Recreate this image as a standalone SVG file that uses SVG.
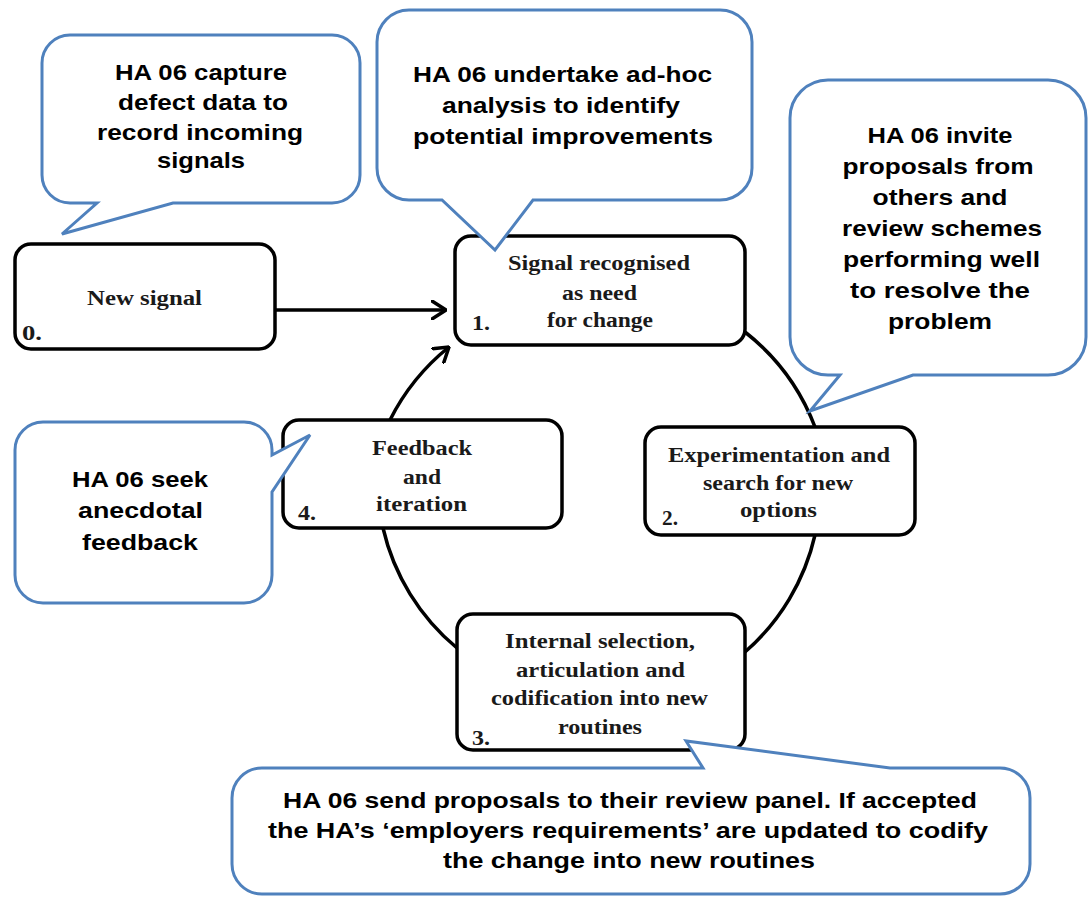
<svg xmlns="http://www.w3.org/2000/svg" width="1089" height="897" viewBox="0 0 1089 897">
  <style>
    .stage { fill: #ffffff; stroke: #000000; stroke-width: 3.5; }
    .callout { fill: #ffffff; stroke: #4f81bd; stroke-width: 3; stroke-linejoin: miter; }
    .link { fill: none; stroke: #000000; stroke-width: 3.5; }
    .st { font-family: "Liberation Serif", "Times New Roman", serif; font-weight: bold; font-size: 20px; fill: #1a1a1a; text-anchor: middle; }
    .num { font-family: "Liberation Serif", "Times New Roman", serif; font-weight: bold; font-size: 20px; fill: #1a1a1a; text-anchor: start; }
    .ct { font-family: "Liberation Sans", Arial, sans-serif; font-weight: bold; font-size: 22px; fill: #000000; text-anchor: middle; }
  </style>
  <defs>
    <marker id="chevron" viewBox="0 0 16 20" refX="15" refY="10" markerWidth="16" markerHeight="20" markerUnits="userSpaceOnUse" orient="auto">
      <path d="M1,1 L15,10 L1,19" fill="none" stroke="#000000" stroke-width="3.5" stroke-linecap="round"/>
    </marker>
  </defs>

  <rect width="1089" height="897" fill="#ffffff"/>

  <!-- cycle arcs and the incoming arrow -->
  <g id="connectors">
    <line class="link" x1="275" y1="310" x2="446" y2="310" marker-end="url(#chevron)"/>
    <path class="link" d="M745,332 A220,220 0 0 1 815,427"/>
    <path class="link" d="M815,535 A220,220 0 0 1 745,652"/>
    <path class="link" d="M457,648 A220,220 0 0 1 383,528"/>
    <path class="link" d="M390,420 A220,220 0 0 1 449,347" marker-end="url(#chevron)"/>
  </g>

  <!-- stages -->
  <g id="stage0">
    <rect class="stage" x="15" y="244" width="260" height="105" rx="16"/>
    <text class="st" x="144.5" y="305" textLength="115" lengthAdjust="spacingAndGlyphs">New signal</text>
    <text class="num" x="22" y="340" textLength="20" lengthAdjust="spacingAndGlyphs">0.</text>
  </g>

  <g id="stage1">
    <rect class="stage" x="455" y="236" width="290" height="109" rx="16"/>
    <text class="st" x="599" y="270" textLength="182" lengthAdjust="spacingAndGlyphs">Signal recognised</text>
    <text class="st" x="599.5" y="300" textLength="75" lengthAdjust="spacingAndGlyphs">as need</text>
    <text class="st" x="600" y="327" textLength="106" lengthAdjust="spacingAndGlyphs">for change</text>
    <text class="num" x="472" y="330" textLength="18" lengthAdjust="spacingAndGlyphs">1.</text>
  </g>

  <g id="stage2">
    <rect class="stage" x="645" y="427" width="270" height="108" rx="16"/>
    <text class="st" x="779" y="462" textLength="222" lengthAdjust="spacingAndGlyphs">Experimentation and</text>
    <text class="st" x="778" y="490" textLength="150" lengthAdjust="spacingAndGlyphs">search for new</text>
    <text class="st" x="778.5" y="517" textLength="77" lengthAdjust="spacingAndGlyphs">options</text>
    <text class="num" x="662" y="525" textLength="16" lengthAdjust="spacingAndGlyphs">2.</text>
  </g>

  <g id="stage3">
    <rect class="stage" x="457" y="614" width="288" height="136" rx="16"/>
    <text class="st" x="600" y="648" textLength="190" lengthAdjust="spacingAndGlyphs">Internal selection,</text>
    <text class="st" x="600.5" y="677" textLength="169" lengthAdjust="spacingAndGlyphs">articulation and</text>
    <text class="st" x="599.5" y="705" textLength="217" lengthAdjust="spacingAndGlyphs">codification into new</text>
    <text class="st" x="600" y="734" textLength="84" lengthAdjust="spacingAndGlyphs">routines</text>
    <text class="num" x="472" y="745" textLength="18" lengthAdjust="spacingAndGlyphs">3.</text>
  </g>

  <g id="stage4">
    <rect class="stage" x="283" y="420" width="279" height="108" rx="16"/>
    <text class="st" x="422" y="455" textLength="100" lengthAdjust="spacingAndGlyphs">Feedback</text>
    <text class="st" x="422" y="484" textLength="38" lengthAdjust="spacingAndGlyphs">and</text>
    <text class="st" x="421.5" y="511" textLength="91" lengthAdjust="spacingAndGlyphs">iteration</text>
    <text class="num" x="298" y="520" textLength="18" lengthAdjust="spacingAndGlyphs">4.</text>
  </g>

  <!-- speech-bubble notes -->
  <g id="note-capture">
    <path class="callout" d="M70,35 H332 A28,28 0 0 1 360,63 V175 A28,28 0 0 1 332,203 H173 L62,234 L97,203 H70 A28,28 0 0 1 42,175 V63 A28,28 0 0 1 70,35 Z"/>
    <text class="ct" x="201" y="80" textLength="172" lengthAdjust="spacingAndGlyphs">HA 06 capture</text>
    <text class="ct" x="203" y="110" textLength="170" lengthAdjust="spacingAndGlyphs">defect data to</text>
    <text class="ct" x="200" y="140" textLength="206" lengthAdjust="spacingAndGlyphs">record incoming</text>
    <text class="ct" x="201" y="168" textLength="88" lengthAdjust="spacingAndGlyphs">signals</text>
  </g>

  <g id="note-analysis">
    <path class="callout" d="M409,10 H720 A32,32 0 0 1 752,42 V168 A32,32 0 0 1 720,200 H533 L495,250 L442,200 H409 A32,32 0 0 1 377,168 V42 A32,32 0 0 1 409,10 Z"/>
    <text class="ct" x="562.5" y="82" textLength="299" lengthAdjust="spacingAndGlyphs">HA 06 undertake ad-hoc</text>
    <text class="ct" x="561" y="113" textLength="238" lengthAdjust="spacingAndGlyphs">analysis to identify</text>
    <text class="ct" x="563" y="144" textLength="300" lengthAdjust="spacingAndGlyphs">potential improvements</text>
  </g>

  <g id="note-proposals">
    <path class="callout" d="M828,80 H1048 A38,38 0 0 1 1086,118 V337 A38,38 0 0 1 1048,375 H913 L810,411 L840,375 H828 A38,38 0 0 1 790,337 V118 A38,38 0 0 1 828,80 Z"/>
    <text class="ct" x="940" y="143" textLength="145" lengthAdjust="spacingAndGlyphs">HA 06 invite</text>
    <text class="ct" x="938" y="174" textLength="191" lengthAdjust="spacingAndGlyphs">proposals from</text>
    <text class="ct" x="940" y="205" textLength="135" lengthAdjust="spacingAndGlyphs">others and</text>
    <text class="ct" x="942" y="236" textLength="200" lengthAdjust="spacingAndGlyphs">review schemes</text>
    <text class="ct" x="941.5" y="267" textLength="197" lengthAdjust="spacingAndGlyphs">performing well</text>
    <text class="ct" x="940" y="298" textLength="180" lengthAdjust="spacingAndGlyphs">to resolve the</text>
    <text class="ct" x="940" y="329" textLength="104" lengthAdjust="spacingAndGlyphs">problem</text>
  </g>

  <g id="note-feedback">
    <path class="callout" d="M43,422 H244 A28,28 0 0 1 272,450 V455 L310,435 L272,492 V575 A28,28 0 0 1 244,603 H43 A28,28 0 0 1 15,575 V450 A28,28 0 0 1 43,422 Z"/>
    <text class="ct" x="140" y="487" textLength="136" lengthAdjust="spacingAndGlyphs">HA 06 seek</text>
    <text class="ct" x="140.5" y="518" textLength="125" lengthAdjust="spacingAndGlyphs">anecdotal</text>
    <text class="ct" x="140" y="550" textLength="116" lengthAdjust="spacingAndGlyphs">feedback</text>
  </g>

  <g id="note-review">
    <path class="callout" d="M262,768 H703 L686,741 L890,768 H1000 A30,30 0 0 1 1030,798 V864 A30,30 0 0 1 1000,894 H262 A30,30 0 0 1 232,864 V798 A30,30 0 0 1 262,768 Z"/>
    <text class="ct" x="630" y="808" textLength="694" lengthAdjust="spacingAndGlyphs">HA 06 send proposals to their review panel. If accepted</text>
    <text class="ct" x="628" y="838" textLength="720" lengthAdjust="spacingAndGlyphs">the HA’s ‘employers requirements’ are updated to codify</text>
    <text class="ct" x="629" y="868" textLength="372" lengthAdjust="spacingAndGlyphs">the change into new routines</text>
  </g>
</svg>
